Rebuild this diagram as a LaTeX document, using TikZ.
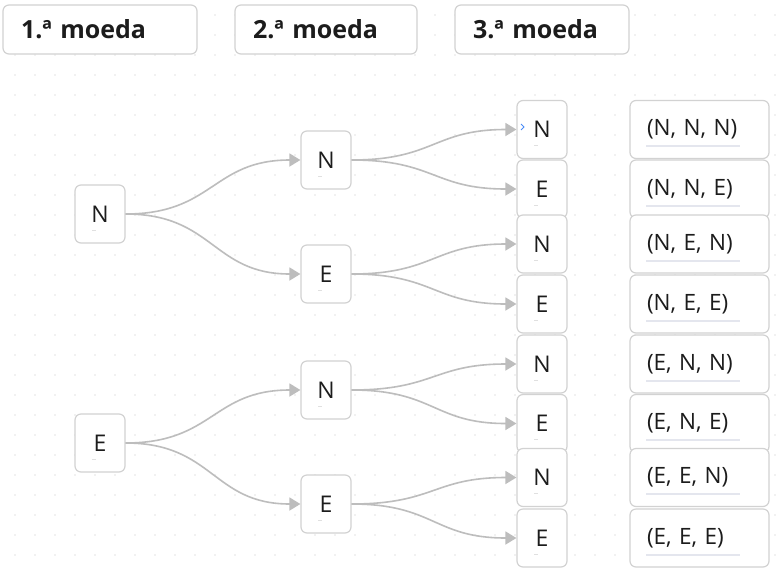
\documentclass[tikz,border=0pt]{standalone}
\usepackage{fontspec}
\setmainfont{Open Sans}
\usetikzlibrary{arrows.meta}
\definecolor{edge}{HTML}{BDBDBD}
\definecolor{boxline}{HTML}{D2D2D2}
\definecolor{ink}{HTML}{1C1C1C}
\definecolor{dotc}{HTML}{E4E4E4}
\definecolor{uline}{HTML}{E4E6EE}
\definecolor{cursor}{HTML}{4A8CF7}
\definecolor{mark}{HTML}{E0E0E0}
\begin{document}
\begin{tikzpicture}[x=1pt,y=-1pt,
  box/.style={draw=boxline, line width=1.2pt, rounded corners=6pt, fill=white,
    minimum width=50pt, minimum height=58pt, inner sep=0pt, text=ink,
    font=\fontsize{23}{27}\selectfont},
  hdr/.style={box, minimum height=49pt, align=left, inner xsep=18pt,
    font=\fontsize{25}{30}\selectfont\bfseries},
  res/.style={box, minimum width=139pt, text width=105pt, inner xsep=17pt,
    align=left, font=\fontsize{22.5}{26}\selectfont},
  link/.style={draw=edge, line width=1.6pt, -{Triangle[length=11pt,width=13pt]}},
  tick/.style={draw=mark, line width=0.9pt},
  ul/.style={draw=uline, line width=2pt}
  ]
\useasboundingbox (0,0) rectangle (776,571);
\fill[white] (0,0) rectangle (776,571);
\foreach \i in {0,...,38}{\foreach \j in {0,...,27}{\fill[dotc] (15+20*\i,15+20*\j) circle (0.8);}}

% headers
\node[hdr, minimum width=194pt, text width=158pt] (h1) at (100,29.5) {\raisebox{-2pt}{1.ª moeda}};
\node[hdr, minimum width=182pt, text width=146pt] (h2) at (326,29.5) {\raisebox{-2pt}{2.ª moeda}};
\node[hdr, minimum width=174pt, text width=138pt] (h3) at (542,29.5) {\raisebox{-2pt}{3.ª moeda}};

% level 1
\node[box] (a1) at (100,214) {N};
\node[box] (a2) at (100,443) {E};
% level 2
\node[box] (b1) at (326,160) {N};
\node[box] (b2) at (326,274) {E};
\node[box] (b3) at (326,390) {N};
\node[box] (b4) at (326,504) {E};
% level 3
\node[box] (c1) at (542,129.5) {N};
\node[box] (c2) at (542,189) {E};
\node[box] (c3) at (542,244) {N};
\node[box] (c4) at (542,304) {E};
\node[box] (c5) at (542,364) {N};
\node[box] (c6) at (542,423.5) {E};
\node[box] (c7) at (542,477.5) {N};
\node[box] (c8) at (542,538) {E};
% results
\node[res] (r1) at (699.5,129.5) {\raisebox{-2pt}{(N, N, N)}};
\node[res] (r2) at (699.5,189) {\raisebox{-2pt}{(N, N, E)}};
\node[res] (r3) at (699.5,244) {\raisebox{-2pt}{(N, E, N)}};
\node[res] (r4) at (699.5,304) {\raisebox{-2pt}{(N, E, E)}};
\node[res] (r5) at (699.5,364) {\raisebox{-2pt}{(E, N, N)}};
\node[res] (r6) at (699.5,423.5) {\raisebox{-2pt}{(E, N, E)}};
\node[res] (r7) at (699.5,477.5) {\raisebox{-2pt}{(E, E, N)}};
\node[res] (r8) at (699.5,538) {\raisebox{-2pt}{(E, E, E)}};

% connectors
\foreach \p/\c in {a1/b1,a1/b2,a2/b3,a2/b4}{
  \draw[link] (\p.east) .. controls +(88,0) and +(-88,0) .. (\c.west);}
\foreach \p/\c in {b1/c1,b1/c2,b2/c3,b2/c4,b3/c5,b3/c6,b4/c7,b4/c8}{
  \draw[link] (\p.east) .. controls +(83,0) and +(-83,0) .. (\c.west);}

% faint marks
\foreach \n in {a1,a2,b1,b2,b3,b4,c1,c2,c3,c4,c5,c6,c7,c8}{
  \draw[tick] ([shift={(-8,16)}]\n.center) -- +(4,0);}
\foreach \n in {r1,r2,r3,r4,r5,r6,r7,r8}{
  \draw[ul] ([shift={(17,16.5)}]\n.west) -- +(94,0);}
\draw[cursor, line width=1pt] ([shift={(-21,-5.5)}]c1.center) -- ([shift={(-18,-2.5)}]c1.center) -- ([shift={(-21,0.5)}]c1.center);
\end{tikzpicture}
\end{document}
